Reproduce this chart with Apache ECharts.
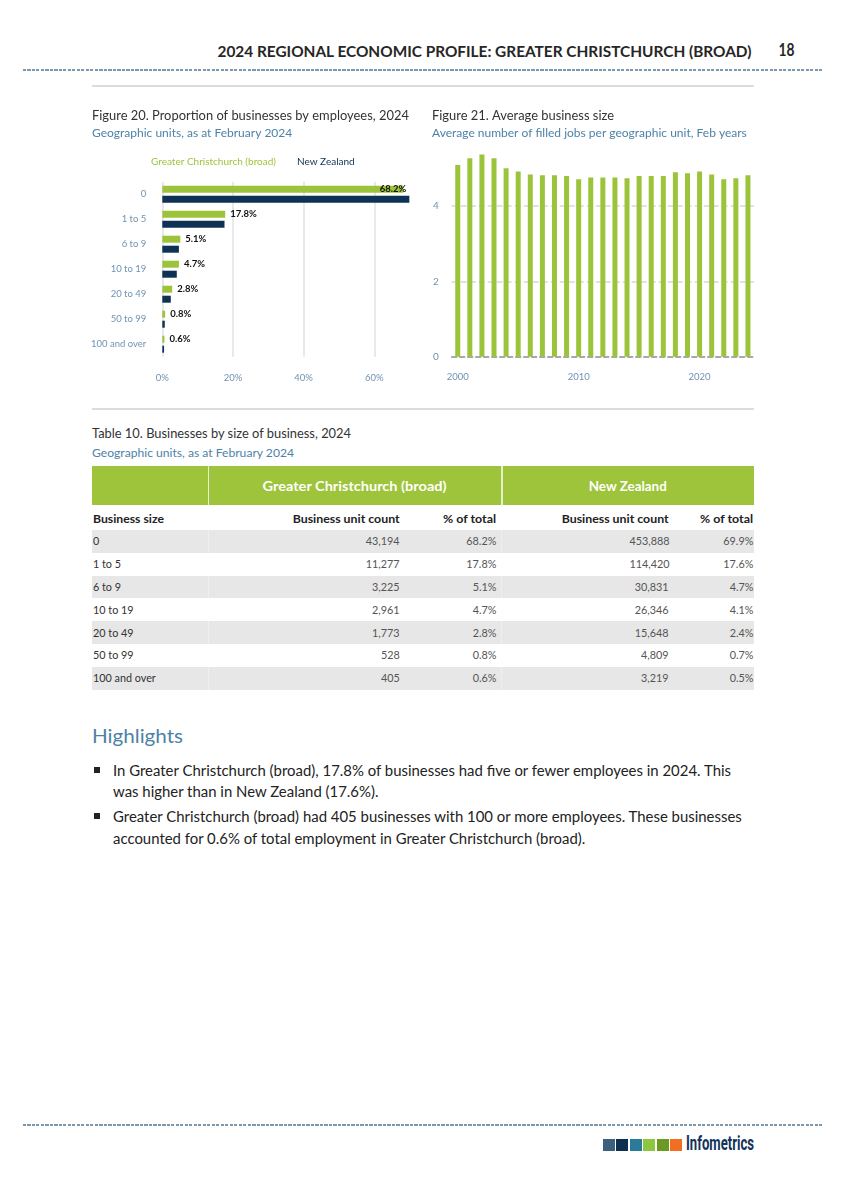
<!DOCTYPE html>
<html><head><meta charset="utf-8">
<script src="https://cdn.jsdelivr.net/npm/echarts@6/dist/echarts.min.js"></script>
<style>
html,body{margin:0;padding:0}
body{width:844px;height:1193px;background:#fff;position:relative;font-family:Lato,'Noto Sans',sans-serif;overflow:hidden}
.t{position:absolute;white-space:nowrap}
.r{position:absolute}
#c1{position:absolute;left:85px;top:95px;width:340px;height:300px}
#c2{position:absolute;left:420px;top:95px;width:344px;height:300px}
.dots{position:absolute;height:2px;background:repeating-linear-gradient(90deg,#7d98ad 0 3px,transparent 3px 4.5px)}
</style></head><body>
<div id="c1"></div>
<div id="c2"></div>
<script>
// ---------- data ----------
const sizeCategories = ['0','1 to 5','6 to 9','10 to 19','20 to 49','50 to 99','100 and over'];
const gcPct = [68.2, 17.8, 5.1, 4.7, 2.8, 0.8, 0.6];
const nzPct = [69.9, 17.6, 4.7, 4.1, 2.4, 0.7, 0.5];
const gcCount = ['43,194','11,277','3,225','2,961','1,773','528','405'];
const nzCount = ['453,888','114,420','30,831','26,346','15,648','4,809','3,219'];
const years = ['2000','2001','2002','2003','2004','2005','2006','2007','2008','2009','2010','2011','2012','2013','2014','2015','2016','2017','2018','2019','2020','2021','2022','2023','2024'];
const avgSize = [5.09,5.27,5.37,5.27,5.00,4.92,4.84,4.82,4.82,4.80,4.71,4.76,4.76,4.76,4.74,4.80,4.80,4.80,4.90,4.87,4.92,4.84,4.71,4.74,4.82];

const GREEN = '#9cc43a', NAVY = '#0e3253', AXISBLUE = '#6f93b3', SUBBLUE = '#4d82a8';

// ---------- page helpers ----------
function txt(s, x, y, o) {
  o = o || {};
  const d = document.createElement('div');
  d.className = 't';
  const size = o.size || 12;
  const lh = Math.round(size * 1.3);
  d.style.fontSize = size + 'px';
  d.style.lineHeight = lh + 'px';
  d.style.color = o.color || '#222';
  d.style.fontWeight = o.weight || 'normal';
  if (o.family) d.style.fontFamily = o.family;
  d.style.top = (y - lh / 2) + 'px';
  d.textContent = s;
  document.body.appendChild(d);
  const w = d.getBoundingClientRect().width;
  let sc = 1;
  if (o.width) sc = o.width / w;
  else if (o.scale) sc = o.scale;
  const align = o.align || 'left';
  if (align === 'left') { d.style.left = x + 'px'; d.style.transformOrigin = 'left center'; }
  else if (align === 'right') { d.style.left = (x - w) + 'px'; d.style.transformOrigin = 'right center'; }
  else { d.style.left = (x - w / 2) + 'px'; d.style.transformOrigin = 'center center'; }
  if (sc !== 1) d.style.transform = 'scaleX(' + sc + ')';
  return {el: d, w: w, sc: sc};
}
function rect(x, y, w, h, c) {
  const d = document.createElement('div');
  d.className = 'r';
  d.style.left = x + 'px'; d.style.top = y + 'px'; d.style.width = w + 'px'; d.style.height = h + 'px';
  d.style.background = c;
  document.body.appendChild(d);
  return d;
}
function dots(x, y, w) {
  const d = document.createElement('div');
  d.className = 'dots';
  d.style.left = x + 'px'; d.style.top = y + 'px'; d.style.width = w + 'px';
  document.body.appendChild(d);
}

// ---------- header ----------
txt('2024 REGIONAL ECONOMIC PROFILE: GREATER CHRISTCHURCH (BROAD)', 752, 50, {size: 16, weight: 700, color: '#262626', align: 'right', width: 534});
txt('18', 787, 50, {size: 16.5, weight: 700, color: '#262626', align: 'center', width: 16});
dots(23, 68.5, 801);
rect(92, 85, 662, 1.5, '#dcdcdc');
rect(92, 408, 662, 1.5, '#dcdcdc');

// ---------- table ----------
txt('Table 10. Businesses by size of business, 2024', 92, 434, {size: 12.5, color: '#333', width: 259});
txt('Geographic units, as at February 2024', 92, 453, {size: 11, color: SUBBLUE, width: 202});
rect(92, 466, 662, 39, '#9dc43a');
rect(207.5, 466, 1.5, 39, 'rgba(255,255,255,0.75)');
rect(501, 466, 1.5, 39, 'rgba(255,255,255,0.75)');
txt('Greater Christchurch (broad)', 355, 486, {size: 14, weight: 700, color: '#fff', align: 'center', width: 184});
txt('New Zealand', 628, 486, {size: 14, weight: 700, color: '#fff', align: 'center', width: 78});
const hdrY = 518;
txt('Business size', 93, hdrY, {size: 11.5, weight: 700, color: '#222', width: 71});
txt('Business unit count', 400, hdrY, {size: 11.5, weight: 700, color: '#222', align: 'right', width: 107});
txt('% of total', 496, hdrY, {size: 11.5, weight: 700, color: '#222', align: 'right', width: 53});
txt('Business unit count', 669, hdrY, {size: 11.5, weight: 700, color: '#222', align: 'right', width: 107});
txt('% of total', 753, hdrY, {size: 11.5, weight: 700, color: '#222', align: 'right', width: 53});
const row0 = 530, rowH = 22.8;
sizeCategories.forEach((c, i) => {
  const top = row0 + i * rowH, cy = top + rowH / 2;
  if (i % 2 === 0) {
    rect(92, top, 662, rowH, '#e7e7e7');
    rect(208, top, 1, rowH, '#efefef');
    rect(501, top, 1, rowH, '#efefef');
  }
  txt(c, 93, cy, {size: 12, color: '#333', scale: 0.9});
  txt(gcCount[i], 400, cy, {size: 12, color: '#555', align: 'right', scale: 0.9});
  txt(gcPct[i].toFixed(1) + '%', 496, cy, {size: 12, color: '#555', align: 'right', scale: 0.9});
  txt(nzCount[i], 669, cy, {size: 12, color: '#555', align: 'right', scale: 0.9});
  txt(nzPct[i].toFixed(1) + '%', 753, cy, {size: 12, color: '#555', align: 'right', scale: 0.9});
});

// ---------- highlights ----------
txt('Highlights', 92, 735, {size: 20, color: SUBBLUE, width: 91});
const l1 = txt('In Greater Christchurch (broad), ' + gcPct[1] + '% of businesses had five or fewer employees in 2024. This', 113, 770, {size: 14.5, color: '#222', width: 618});
const hsc = l1.sc;
txt('was higher than in New Zealand (' + nzPct[1] + '%).', 113, 791, {size: 14.5, color: '#222', scale: hsc});
txt('Greater Christchurch (broad) had ' + gcCount[6] + ' businesses with 100 or more employees. These businesses', 113, 816, {size: 14.5, color: '#222', scale: hsc});
txt('accounted for ' + gcPct[6] + '% of total employment in Greater Christchurch (broad).', 113, 838, {size: 14.5, color: '#222', scale: hsc});
rect(94, 767, 6, 6, '#222');
rect(94, 813, 6, 6, '#222');

// ---------- footer ----------
dots(23, 1123.5, 801);
const logoCols = ['#3d5f7e', '#0e2f50', '#2b7b98', '#8dc63f', '#6b9a22', '#f26f21'];
logoCols.forEach((c, i) => rect(603 + i * 13.4, 1139, 12, 12, c));
txt('Infometrics', 686, 1143, {size: 21, weight: 700, color: '#12325a', width: 68, family: "'Liberation Sans Narrow','Roboto',sans-serif"});

// ---------- Figure 20 ----------
const c1 = echarts.init(document.getElementById('c1'), null, {renderer: 'canvas'});
c1.setOption({
  animation: false,
  textStyle: {fontFamily: 'Lato'},
  title: [
    {text: 'Figure 20. Proportion of businesses by employees, 2024', left: 7, top: 14.5, padding: 0,
     textStyle: {fontSize: 12.9, fontWeight: 'normal', color: '#333'}},
    {text: 'Geographic units, as at February 2024', left: 7, top: 32, padding: 0,
     textStyle: {fontSize: 12, fontWeight: 'normal', color: SUBBLUE}}
  ],
  legend: {
    left: 61, top: 62, padding: 0, itemWidth: 0, itemHeight: 0, itemGap: 16,
    textStyle: {fontSize: 10},
    data: [
      {name: 'Greater Christchurch (broad)', textStyle: {color: GREEN}},
      {name: 'New Zealand', textStyle: {color: NAVY}}
    ]
  },
  grid: {left: 77.3, top: 86.7, width: 247.4, height: 175},
  xAxis: {
    type: 'value', min: 0, max: 70, interval: 20,
    axisLine: {show: false}, axisTick: {show: false},
    axisLabel: {formatter: '{value}%', showMaxLabel: false, color: AXISBLUE, fontSize: 9.5, margin: 16},
    splitLine: {showMaxLine: false, lineStyle: {color: '#dfe2e8', width: 1.5}}
  },
  yAxis: {
    type: 'category', inverse: true, data: sizeCategories,
    axisLine: {show: false}, axisTick: {show: false},
    axisLabel: {color: AXISBLUE, fontSize: 9.5, margin: 16}
  },
  series: [
    {name: 'Greater Christchurch (broad)', type: 'bar', barWidth: 7, barGap: '43%',
     itemStyle: {color: GREEN},
     label: {show: true, position: 'right', distance: 5, formatter: '{c}%', fontWeight: 'bold', fontSize: 9.5, color: '#111'},
     data: gcPct.map((v, i) => i === 0 ? {value: v, label: {position: 'insideRight', offset: [8, 0]}} : v)},
    {name: 'New Zealand', type: 'bar', barWidth: 7,
     itemStyle: {color: NAVY}, data: nzPct}
  ]
});

// ---------- Figure 21 ----------
const c2 = echarts.init(document.getElementById('c2'), null, {renderer: 'canvas'});
const every10 = (i) => i % 10 === 0;
c2.setOption({
  animation: false,
  textStyle: {fontFamily: 'Lato'},
  title: [
    {text: 'Figure 21. Average business size', left: 12, top: 14.5, padding: 0,
     textStyle: {fontSize: 12.9, fontWeight: 'normal', color: '#333'}},
    {text: 'Average number of filled jobs per geographic unit, Feb years', left: 12, top: 32, padding: 0,
     textStyle: {fontSize: 12, fontWeight: 'normal', color: SUBBLUE}}
  ],
  grid: {left: 31.7, top: 35.7, width: 302.3, height: 226},
  xAxis: {
    type: 'category', data: years,
    axisLine: {lineStyle: {color: '#8c8c94', width: 1.5, type: [5, 3]}},
    axisTick: {alignWithLabel: true, interval: every10, length: 10, lineStyle: {color: '#777', width: 1.5}},
    axisLabel: {interval: every10, color: AXISBLUE, fontSize: 9.5, margin: 15}
  },
  yAxis: {
    type: 'value', min: 0, max: 6, interval: 2,
    axisLine: {show: false}, axisTick: {show: false},
    axisLabel: {showMaxLabel: false, color: AXISBLUE, fontSize: 10, margin: 13},
    splitLine: {showMaxLine: false, showMinLine: false, lineStyle: {color: '#d6d8e0', width: 1.5, type: [6, 3]}}
  },
  series: [
    {name: 'Average business size', type: 'bar', barWidth: 5, itemStyle: {color: GREEN}, data: avgSize}
  ]
});
</script>
</body></html>
